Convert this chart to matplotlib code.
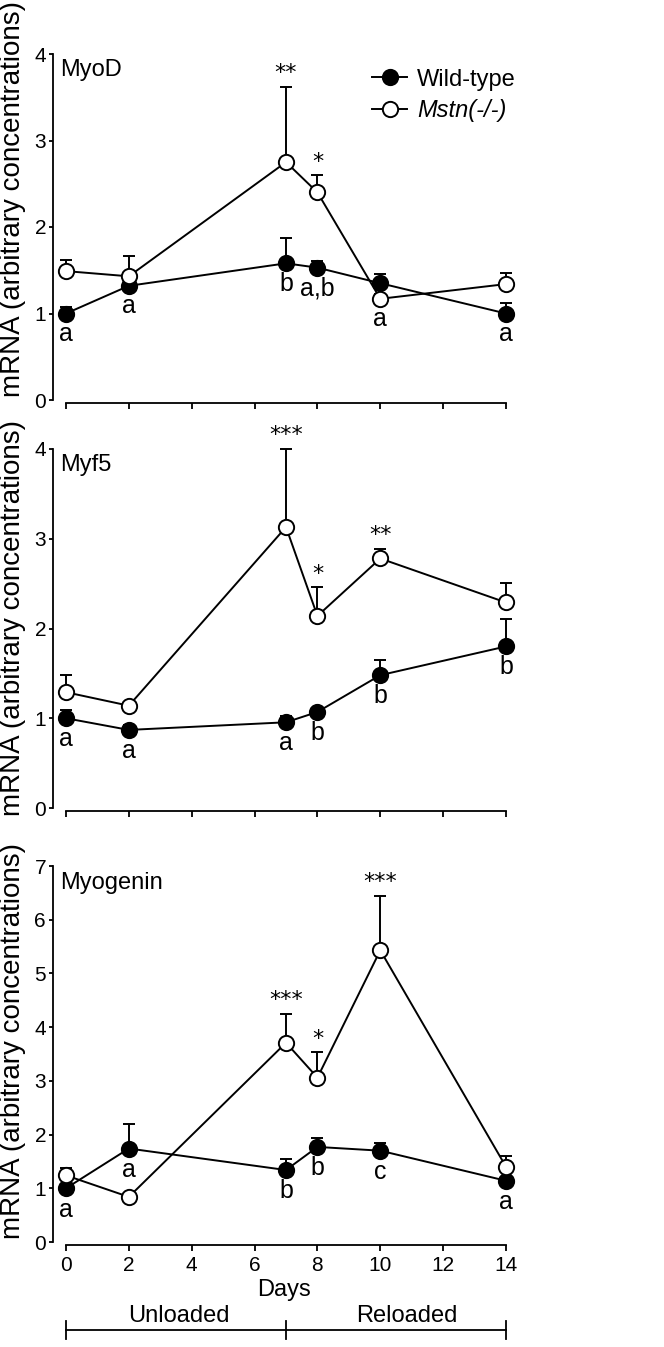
"""
Myogenic factor mRNA time course: wild-type vs Mstn(-/-) (three stacked panels).
"""

import numpy as np
import matplotlib
matplotlib.use("Agg")
import matplotlib.pyplot as plt
from matplotlib.lines import Line2D

plt.rcParams.update({
    "font.family": ["Liberation Sans", "DejaVu Sans"],
    "font.size": 16.5,
    "axes.linewidth": 1.3,
    "xtick.major.width": 1.3,
    "ytick.major.width": 1.3,
    "xtick.major.size": 4,
    "ytick.major.size": 3,
})

days = [0, 2, 7, 8, 10, 14]
x_ticks = [0, 2, 4, 6, 8, 10, 12, 14]

# MyoD
myod_wt = [1.00, 1.32, 1.58, 1.53, 1.35, 1.00]
myod_wt_err = [0.08, 0.04, 0.29, 0.08, 0.11, 0.12]
myod_ko = [1.49, 1.43, 2.75, 2.40, 1.17, 1.34]
myod_ko_err = [0.13, 0.23, 0.87, 0.20, 0.05, 0.13]
myod_letters = ["a", "a", "b", "a,b", "a", "a"]
myod_stars = ["", "", "**", "*", "", ""]

# Myf5
myf5_wt = [1.00, 0.87, 0.955, 1.07, 1.48, 1.80]
myf5_wt_err = [0.09, 0.06, 0.07, 0.03, 0.17, 0.31]
myf5_ko = [1.29, 1.14, 3.13, 2.14, 2.78, 2.29]
myf5_ko_err = [0.19, 0.03, 0.87, 0.32, 0.11, 0.22]
myf5_letters = ["a", "a", "a", "b", "b", "b"]
myf5_stars = ["", "", "***", "*", "**", ""]

# Myogenin
myog_wt = [1.00, 1.74, 1.34, 1.77, 1.70, 1.14]
myog_wt_err = [0.05, 0.46, 0.21, 0.17, 0.14, 0.06]
myog_ko = [1.24, 0.84, 3.71, 3.06, 5.43, 1.40]
myog_ko_err = [0.13, 0.05, 0.53, 0.47, 1.02, 0.20]
myog_letters = ["a", "a", "b", "b", "c", "a"]
myog_stars = ["", "", "***", "*", "***", ""]

panels = [
    ("MyoD", myod_wt, myod_wt_err, myod_ko, myod_ko_err, myod_letters, myod_stars, 4),
    ("Myf5", myf5_wt, myf5_wt_err, myf5_ko, myf5_ko_err, myf5_letters, myf5_stars, 4),
    ("Myogenin", myog_wt, myog_wt_err, myog_ko, myog_ko_err, myog_letters, myog_stars, 7),
]

W, H = 664, 1347
fig = plt.figure(figsize=(W / 100, H / 100), dpi=100)

# axes boxes in pixels: (y of zero, y of top), plus vertical centre of the y label
left_px, right_px = 53, 515
boxes = [(400, 54), (808, 449), (1242, 866)]
label_y = [0.58, 0.53, 0.535]
x0_px, px_per_day = 66, 440 / 14
xlim = ((left_px - x0_px) / px_per_day, (right_px - x0_px) / px_per_day)

for i, (name, wt, wt_e, ko, ko_e, letters, stars, ymax) in enumerate(panels):
    yb, yt = boxes[i]
    ax = fig.add_axes([left_px / W, 1 - yb / H, (right_px - left_px) / W, (yb - yt) / H])
    u = ymax / 4  # scale factor for text offsets

    ax.errorbar(days, wt, yerr=[np.zeros(len(wt)), wt_e], color="black", lw=1.4,
                marker="o", ms=11, mfc="black", mec="black", mew=1.4,
                capsize=4, capthick=1.4, elinewidth=1.4, clip_on=False, zorder=3)
    ax.errorbar(days, ko, yerr=[np.zeros(len(ko)), ko_e], color="black", lw=1.4,
                marker="o", ms=11, mfc="white", mec="black", mew=1.4,
                capsize=4, capthick=1.4, elinewidth=1.4, clip_on=False, zorder=4)

    # letters below wild-type points (below whichever marker is lower when close)
    for d, w, k, lab in zip(days, wt, ko, letters):
        base = min(w, k) if abs(w - k) < 0.3 * u else w
        ax.text(d, base - 0.1 * u, lab, ha="center", va="top", fontsize=18)

    # significance stars above Mstn error bars
    for d, k, e, s in zip(days, ko, ko_e, stars):
        if s:
            ax.text(d, k + e + 0.04 * u, s, ha="center", va="bottom", fontsize=16,
                    family="DejaVu Sans")

    ax.text(-0.2, ymax * 0.955, name, ha="left", va="center", fontsize=17)

    ax.set_xlim(*xlim)
    ax.set_ylim(0, ymax)
    ax.set_xticks(x_ticks)
    ax.set_yticks(range(ymax + 1))
    ax.spines["top"].set_visible(False)
    ax.spines["right"].set_visible(False)
    ax.spines["left"].set_bounds(0, ymax)
    ax.spines["bottom"].set_bounds(0, 14)
    ax.spines["bottom"].set_position(("outward", 2))
    ax.tick_params(axis="y", pad=2, labelsize=15)
    ax.tick_params(axis="x", pad=4, labelsize=15)
    ax.set_ylabel("mRNA (arbitrary concentrations)", fontsize=20)
    ax.yaxis.set_label_coords(-0.058, label_y[i])
    if i < 2:
        ax.set_xticklabels([])
    else:
        ax.set_xlabel("Days", fontsize=17, labelpad=3)

    if i == 0:
        handles = [
            Line2D([], [], color="black", lw=1.4, marker="o", ms=11, mfc="black", mew=1.4),
            Line2D([], [], color="black", lw=1.4, marker="o", ms=11, mfc="white", mew=1.4),
        ]
        leg = ax.legend(handles, ["Wild-type", "Mstn(-/-)"], loc="upper left",
                        bbox_to_anchor=(0.67, 0.985), frameon=False, fontsize=17,
                        handlelength=1.5, handletextpad=0.4, labelspacing=0.35,
                        borderaxespad=0)
        leg.get_texts()[1].set_fontstyle("italic")

    if i == 2:
        tr = ax.get_xaxis_transform()
        yb_line = -(1330 - yb) / (yb - yt)
        tick_h = 9 / (yb - yt)
        ax.plot([0, 14], [yb_line, yb_line], color="black", lw=1.3, transform=tr, clip_on=False)
        for xv in [0, 7, 14]:
            ax.plot([xv, xv], [yb_line - tick_h, yb_line + tick_h], color="black", lw=1.3,
                    transform=tr, clip_on=False)
        y_txt = -(1316 - yb) / (yb - yt)
        ax.text(3.6, y_txt, "Unloaded", ha="center", va="center", fontsize=17, transform=tr)
        ax.text(10.85, y_txt, "Reloaded", ha="center", va="center", fontsize=17, transform=tr)

fig.savefig("out.png", dpi=100)
